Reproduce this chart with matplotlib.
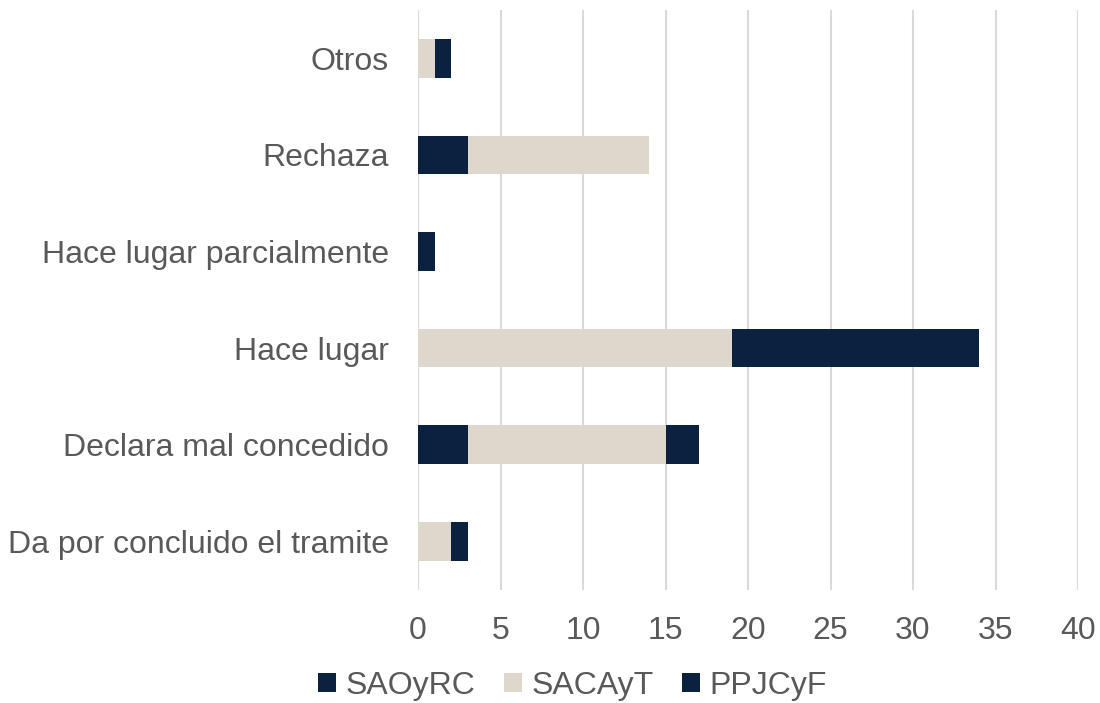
import numpy as np
import matplotlib.pyplot as plt

plt.rcParams['font.family'] = ['Liberation Sans', 'DejaVu Sans']

categorias = ['Da por concluido el tramite', 'Declara mal concedido', 'Hace lugar',
              'Hace lugar parcialmente', 'Rechaza', 'Otros']
saoyrc = [0, 3, 0, 1, 3, 0]
sacayt = [2, 12, 19, 0, 11, 1]
ppjcyf = [1, 2, 15, 0, 0, 1]

navy = '#0A2240'
beige = '#DDD7CC'
gris = '#595959'

fig = plt.figure(figsize=(11, 7.03), dpi=100)
ax = fig.add_axes([0.38, 0.161, 0.6, 0.825])

y = np.arange(len(categorias))
h = 0.4
left = np.zeros(len(categorias))
for vals, col, lab in [(saoyrc, navy, 'SAOyRC'), (sacayt, beige, 'SACAyT'), (ppjcyf, navy, 'PPJCyF')]:
    ax.barh(y, vals, height=h, left=left, color=col, label=lab, zorder=3)
    left += np.array(vals)

ax.set_xlim(0, 40)
ax.set_ylim(-0.5, 5.5)
ax.set_xticks(range(0, 41, 5))
ax.set_yticks(y)
ax.set_yticklabels(categorias)
ax.tick_params(axis='both', length=0, labelsize=23, colors=gris)
ax.tick_params(axis='x', pad=19)
ax.tick_params(axis='y', pad=21)
ax.grid(axis='x', color='#D9D9D9', linewidth=1.5, zorder=0)
for s in ax.spines.values():
    s.set_visible(False)

ax.legend(loc='center', bbox_to_anchor=(0.234, -0.166), ncol=3, frameon=False,
          fontsize=23, labelcolor=gris, handlelength=0.55, handleheight=0.55,
          handletextpad=0.3, columnspacing=0.9, borderpad=0.2)

fig.savefig('out.png', dpi=100)
